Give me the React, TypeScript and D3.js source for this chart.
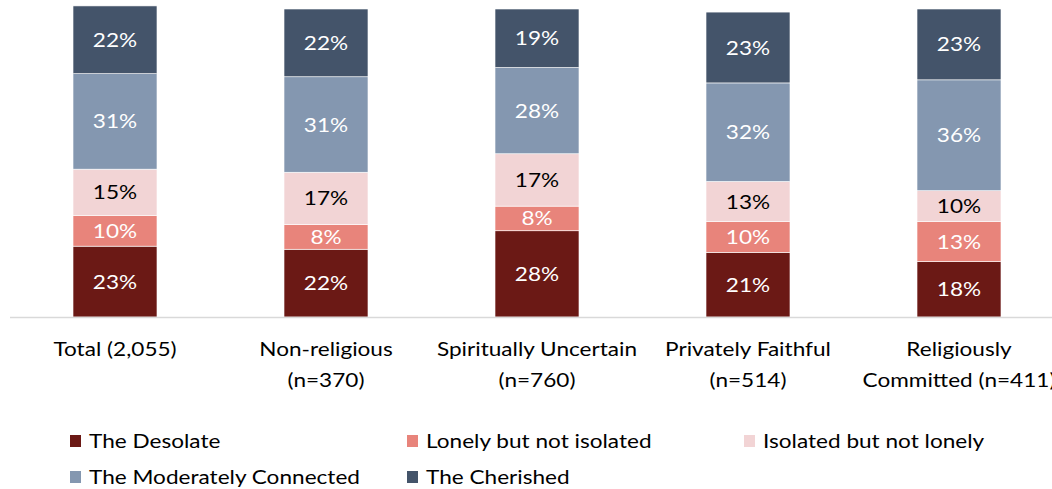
import React from "react";
import * as d3 from "d3";

const categories = ["Total (2,055)", "Non-religious (n=370)", "Spiritually Uncertain (n=760)", "Privately Faithful (n=514)", "Religiously Committed (n=411)"];
const categoryLines = [["Total (2,055)"], ["Non-religious", "(n=370)"], ["Spiritually Uncertain", "(n=760)"], ["Privately Faithful", "(n=514)"], ["Religiously", "Committed (n=411)"]];
const seriesNames = ["The Desolate", "Lonely but not isolated", "Isolated but not lonely", "The Moderately Connected", "The Cherished"];
const desolate = [23, 22, 28, 21, 18];
const lonely = [10, 8, 8, 10, 13];
const isolated = [15, 17, 17, 13, 10];
const moderate = [31, 31, 28, 32, 36];
const cherished = [22, 22, 19, 23, 23];
const colors = ["#6b1915", "#e8847b", "#f2d4d5", "#8497b0", "#44546a"];
const labelColors = ["#ffffff", "#ffffff", "#000000", "#ffffff", "#ffffff"];

const W = 1052, H = 489;
const FONT = "Lato, Carlito, Calibri, sans-serif";
const FS = 20;
const SX = 1.13;

function T({ x, y, anchor, fill, children }: any) {
  return (
    <text transform={`translate(${x},${y}) scale(${SX},1)`} x={0} y={0} dy="0.35em" textAnchor={anchor} fontSize={FS} fill={fill}>
      {children}
    </text>
  );
}

export default function App() {
  const series = [desolate, lonely, isolated, moderate, cherished];
  const x = d3.scaleBand<string>().domain(categories).range([9.5, 9.5 + 5 * 211]).paddingInner(0.602).paddingOuter(0.301);
  const y = d3.scaleLinear().domain([0, 100]).range([317, 9]);
  const rows = categories.map((c, i) => {
    const o: any = { cat: c };
    seriesNames.forEach((s, k) => (o[s] = series[k][i]));
    return o;
  });
  const stacked = d3.stack<any>().keys(seriesNames)(rows);

  return (
    <svg width={W} height={H} style={{ position: "absolute", left: 0, top: 0, background: "#fff" }} fontFamily={FONT}>
      {stacked.map((layer, k) => (
        <g key={k}>
          {layer.map((d, i) => {
            const x0 = x(categories[i])!;
            const y0 = y(d[1]);
            const h = y(d[0]) - y(d[1]);
            return (
              <g key={i}>
                <rect x={x0} y={y0} width={x.bandwidth()} height={h} fill={colors[k]} stroke="#ffffff" strokeWidth={0.6} />
                <T x={x0 + x.bandwidth() / 2} y={y0 + h / 2} anchor="middle" fill={labelColors[k]}>
                  {series[k][i]}%
                </T>
              </g>
            );
          })}
        </g>
      ))}
      <line x1={10} x2={W} y1={317.5} y2={317.5} stroke="#d9d9d9" strokeWidth={1.5} />
      {categoryLines.map((lines, i) =>
        lines.map((l, j) => (
          <T key={`${i}-${j}`} x={x(categories[i])! + x.bandwidth() / 2} y={349 + j * 31} anchor="middle" fill="#000">
            {l}
          </T>
        ))
      )}
      {seriesNames.map((s, k) => {
        const col = k % 3, row = Math.floor(k / 3);
        const lx = 70 + col * 337, ly = 441 + row * 36;
        return (
          <g key={s}>
            <rect x={lx} y={ly - 6} width={11} height={12} fill={colors[k]} />
            <T x={lx + 19} y={ly} anchor="start" fill="#000">{s}</T>
          </g>
        );
      })}
    </svg>
  );
}
